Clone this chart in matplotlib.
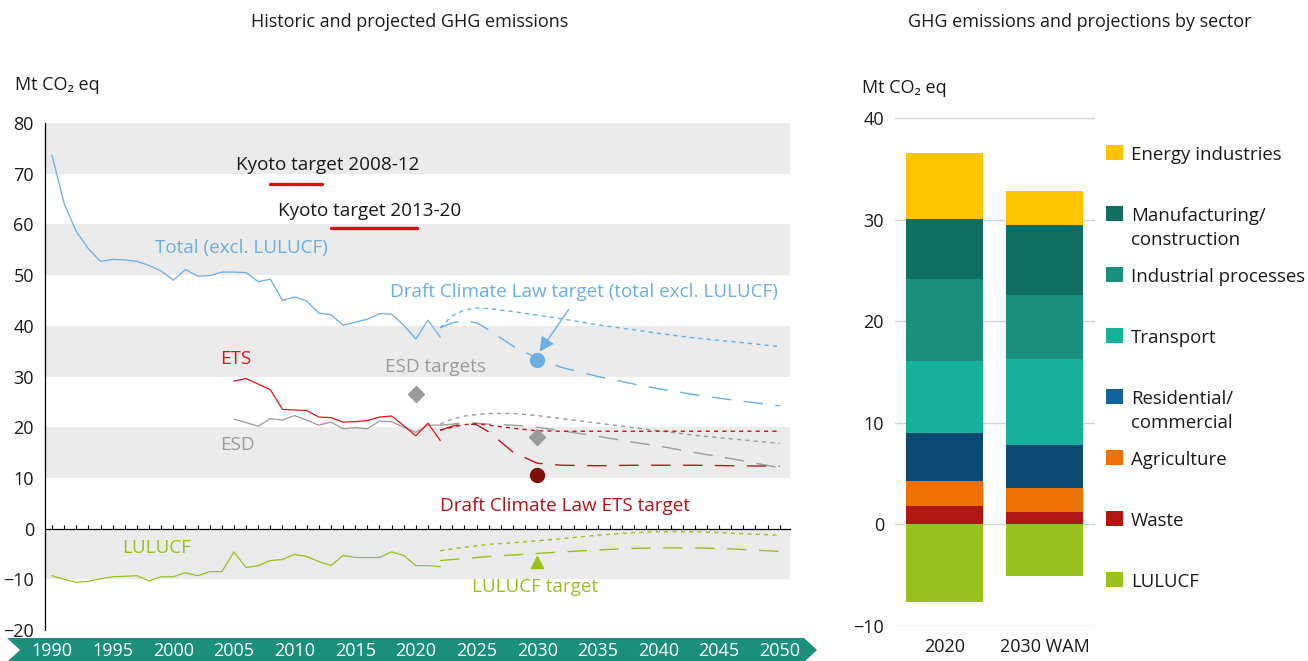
import numpy as np
import matplotlib.pyplot as plt
import matplotlib.transforms as mtransforms
from matplotlib.patches import Polygon, Rectangle

plt.rcParams['font.family'] = ['Open Sans', 'DejaVu Sans']

# ---- left chart data (Mt CO2 eq) ----
hist_years = np.arange(1990, 2023)
total_hist = [73.6, 64.1, 58.6, 55.2, 52.7, 53.1, 53.0, 52.7, 51.9, 50.8,
              49.0, 51.1, 49.8, 49.9, 50.6, 50.6, 50.5, 48.7, 49.2, 45.0,
              45.7, 44.9, 42.5, 42.2, 40.1, 40.7, 41.3, 42.4, 42.3, 40.1,
              37.4, 41.1, 37.8]
lulucf_hist = [-9.3, -10.0, -10.6, -10.4, -9.9, -9.5, -9.4, -9.3, -10.3, -9.5,
               -9.5, -8.7, -9.3, -8.5, -8.5, -4.6, -7.7, -7.3, -6.3, -6.1,
               -5.1, -5.5, -6.5, -7.3, -5.3, -5.7, -5.7, -5.7, -4.6, -5.3,
               -7.3, -7.3, -7.5]
sect_years = np.arange(2005, 2023)
ets_hist = [29.1, 29.6, 28.5, 27.4, 23.5, 23.4, 23.3, 22.0, 21.9, 21.0,
            21.1, 21.3, 22.0, 22.2, 20.3, 18.3, 20.8, 17.4]
esd_hist = [21.6, 20.9, 20.2, 21.7, 21.4, 22.3, 21.4, 20.4, 21.0, 19.7,
            19.9, 19.7, 21.2, 21.1, 20.0, 19.0, 20.4, 20.4]

proj_years = [2022, 2023, 2024, 2025, 2026, 2028, 2030, 2032, 2035, 2038, 2040, 2043, 2046, 2050]
total_wem = [39.6, 42.0, 43.1, 43.5, 43.4, 42.8, 42.1, 41.4, 40.2, 39.2, 38.5, 37.6, 36.9, 35.9]
total_wam = [39.6, 40.6, 41.0, 40.6, 39.2, 36.0, 33.6, 31.8, 30.0, 28.5, 27.6, 26.4, 25.4, 24.2]
esd_wem = [20.6, 21.6, 22.2, 22.5, 22.7, 22.7, 22.3, 21.7, 20.8, 19.9, 19.3, 18.4, 17.7, 16.8]
esd_wam = [20.4, 20.6, 20.9, 20.8, 20.6, 20.4, 20.0, 19.3, 18.2, 17.0, 16.3, 15.0, 13.8, 12.0]
ets_wem = [19.4, 20.0, 20.5, 20.7, 20.4, 19.8, 19.3, 19.2, 19.2, 19.2, 19.2, 19.2, 19.2, 19.2]
ets_wam = [19.4, 20.2, 20.7, 20.5, 19.1, 15.1, 12.9, 12.5, 12.4, 12.5, 12.5, 12.5, 12.4, 12.3]
lulucf_wem = [-4.4, -4.0, -3.7, -3.4, -3.1, -2.8, -2.4, -2.0, -1.3, -0.8, -0.6, -0.6, -0.9, -1.3]
lulucf_wam = [-6.3, -6.1, -5.9, -5.7, -5.5, -5.2, -4.9, -4.6, -4.2, -3.9, -3.8, -3.8, -4.0, -4.5]

kyoto_1 = (2008, 2012.3, 68.0)
kyoto_2 = (2013, 2020.1, 59.2)
target_total_2030 = 33.2
target_ets_2030 = 10.6
target_lulucf_2030 = -6.5
esd_target_years = [2020, 2030]
esd_target_vals = [26.5, 18.1]
axis_years = list(range(1990, 2051, 5))

# ---- right chart data ----
bar_labels = ['2020', '2030 WAM']
sectors = ['Waste', 'Agriculture', 'Residential/\ncommercial', 'Transport',
           'Industrial processes', 'Manufacturing/\nconstruction', 'Energy industries']
sector_vals = {
    'Waste': [1.8, 1.2],
    'Agriculture': [2.5, 2.4],
    'Residential/\ncommercial': [4.7, 4.2],
    'Transport': [7.1, 8.5],
    'Industrial processes': [8.1, 6.3],
    'Manufacturing/\nconstruction': [5.9, 6.9],
    'Energy industries': [6.5, 3.3],
}
lulucf_bar = [-7.6, -5.1]
sector_colors = {
    'Waste': '#b01612',
    'Agriculture': '#ee7203',
    'Residential/\ncommercial': '#0c4a73',
    'Transport': '#17b09a',
    'Industrial processes': '#1a8f7b',
    'Manufacturing/\nconstruction': '#106e60',
    'Energy industries': '#fcc500',
    'LULUCF': '#9ac21f',
}

LBLUE = '#6aaee2'
RED = '#e3141c'
DRED = '#c0161c'
GREY = '#9b9b9b'
GREEN = '#98c11e'
TEAL = '#1b8f7c'
INK = '#1a1a1a'
W, H = 1308, 661

fig = plt.figure(figsize=(13.08, 6.61), dpi=100)

# ================= left chart =================
ax = fig.add_axes([45 / W, 31 / H, 745 / W, 507 / H])
ax.set_xlim(1989.42, 2050.85)
ax.set_ylim(-20, 80)
for lo in (70, 50, 30, 10, -10):
    ax.axhspan(lo, lo + 10, color='#ebebeb', zorder=0, lw=0)

ax.plot(hist_years, total_hist, color=LBLUE, lw=0.9)
ax.plot(hist_years, lulucf_hist, color=GREEN, lw=0.9)
ax.plot(sect_years, esd_hist, color=GREY, lw=0.9)
ax.plot(sect_years, ets_hist, color=RED, lw=0.9)

dot = (3, 3)
dash = (14, 9)
ax.plot(proj_years, total_wem, color=LBLUE, lw=1.0, dashes=dot)
ax.plot(proj_years, total_wam, color=LBLUE, lw=1.0, dashes=dash)
ax.plot(proj_years, esd_wem, color=GREY, lw=1.0, dashes=dot)
ax.plot(proj_years, esd_wam, color=GREY, lw=1.0, dashes=dash)
ax.plot(proj_years, ets_wem, color=DRED, lw=1.0, dashes=dot)
ax.plot(proj_years, ets_wam, color=DRED, lw=1.0, dashes=dash)
ax.plot(proj_years, lulucf_wem, color=GREEN, lw=1.0, dashes=dot)
ax.plot(proj_years, lulucf_wam, color=GREEN, lw=1.0, dashes=dash)

for x0, x1, v in (kyoto_1, kyoto_2):
    ax.plot([x0, x1], [v, v], color='#e30613', lw=2.4, solid_capstyle='round')

ax.plot([2030], [target_total_2030], 'o', color=LBLUE, ms=10, zorder=5)
ax.plot([2030], [target_ets_2030], 'o', color='#7e1008', ms=10, zorder=5)
ax.plot([2030], [target_lulucf_2030], '^', color=GREEN, ms=9, zorder=5)
ax.plot(esd_target_years, esd_target_vals, 'D', color=GREY, ms=8, zorder=5)

ax.annotate('', xy=(2030.2, 34.9), xytext=(2032.6, 43.2),
            arrowprops=dict(arrowstyle='-|>', color=LBLUE, lw=1.0,
                            mutation_scale=22, shrinkA=0, shrinkB=0))

fs = 13.6
ax.text(1998.5, 55.4, 'Total (excl. LULUCF)', color=LBLUE, fontsize=fs, va='center')
ax.text(2005.2, 71.8, 'Kyoto target 2008-12', color=INK, fontsize=fs, va='center')
ax.text(2008.6, 62.7, 'Kyoto target 2013-20', color=INK, fontsize=fs, va='center')
ax.text(2017.9, 46.7, 'Draft Climate Law target (total excl. LULUCF)', color=LBLUE,
        fontsize=fs, va='center')
ax.text(2003.85, 33.5, 'ETS', color=RED, fontsize=fs, va='center')
ax.text(2017.45, 31.8, 'ESD targets', color=GREY, fontsize=fs, va='center')
ax.text(2003.85, 16.4, 'ESD', color=GREY, fontsize=fs, va='center')
ax.text(2022.0, 4.5, 'Draft Climate Law ETS target', color='#b0141a', fontsize=fs, va='center')
ax.text(1995.8, -3.9, 'LULUCF', color=GREEN, fontsize=fs, va='center')
ax.text(2024.6, -11.6, 'LULUCF target', color=GREEN, fontsize=fs, va='center')

ax.spines['top'].set_visible(False)
ax.spines['right'].set_visible(False)
ax.spines['left'].set_linewidth(0.9)
ax.spines['bottom'].set_position(('data', 0))
ax.spines['bottom'].set_linewidth(0.9)
ax.set_yticks(range(-20, 81, 10))
ax.tick_params(axis='y', length=0, pad=8, labelsize=13, labelcolor=INK)
ax.set_xticks(range(1990, 2051))
ax.tick_params(axis='x', direction='in', length=3, width=0.8, labelbottom=False)

# teal timeline band
band = Polygon([(7 / W, 23 / H), (804 / W, 23 / H), (817 / W, 11 / H), (804 / W, -1 / H),
                (7 / W, -1 / H), (20 / W, 11 / H)], closed=True, transform=fig.transFigure,
               facecolor=TEAL, edgecolor='none', zorder=-1)
fig.patches.append(band)
trans = mtransforms.blended_transform_factory(ax.transData, fig.transFigure)
for yr in axis_years:
    ax.text(yr, 10 / H, str(yr), transform=trans, color='white', fontsize=13,
            ha='center', va='center', clip_on=False)

fig.text(410 / W, 1 - 22 / H, 'Historic and projected GHG emissions', fontsize=13,
         ha='center', va='center', color=INK)
fig.text(15 / W, 1 - 85 / H, 'Mt CO\u2082 eq', fontsize=13, va='center', color=INK)

# ================= right chart =================
ax2 = fig.add_axes([895 / W, 35 / H, 200 / W, 508 / H])
xb = np.arange(len(bar_labels))
bottom = np.zeros(len(bar_labels))
for s in sectors:
    vals = np.array(sector_vals[s])
    ax2.bar(xb, vals, 0.77, bottom=bottom, color=sector_colors[s], zorder=3)
    bottom += vals
ax2.bar(xb, lulucf_bar, 0.77, color=sector_colors['LULUCF'], zorder=3)

ax2.set_xlim(-0.495, 1.505)
ax2.set_ylim(-10, 40)
ax2.set_yticks(range(-10, 41, 10))
ax2.grid(axis='y', color='#d4d4d4', lw=1.0, zorder=0)
for sp in ax2.spines.values():
    sp.set_visible(False)
ax2.tick_params(axis='y', length=0, pad=8, labelsize=13, labelcolor=INK)
ax2.set_xticks(xb)
ax2.set_xticklabels(bar_labels)
ax2.tick_params(axis='x', length=0, pad=9, labelsize=13, labelcolor=INK)

fig.text(1080 / W, 1 - 22 / H, 'GHG emissions and projections by sector', fontsize=13,
         ha='center', va='center', color=INK)
fig.text(862 / W, 1 - 88 / H, 'Mt CO\u2082 eq', fontsize=13, va='center', color=INK)

legend_order = ['Energy industries', 'Manufacturing/\nconstruction', 'Industrial processes',
                'Transport', 'Residential/\ncommercial', 'Agriculture', 'Waste', 'LULUCF']
legend_colors = dict(sector_colors)
legend_colors['Residential/\ncommercial'] = '#11639d'
for i, name in enumerate(legend_order):
    yc = 153 + 61 * i
    fig.patches.append(Rectangle((1106 / W, 1 - (yc + 7) / H), 17 / W, 15 / H,
                                 transform=fig.transFigure, facecolor=legend_colors[name],
                                 edgecolor='none'))
    fig.text(1131 / W, 1 - (yc - 7) / H, name, fontsize=13.4, va='top', ha='left',
             color=INK, linespacing=1.45)

fig.savefig('out.png', dpi=100)
